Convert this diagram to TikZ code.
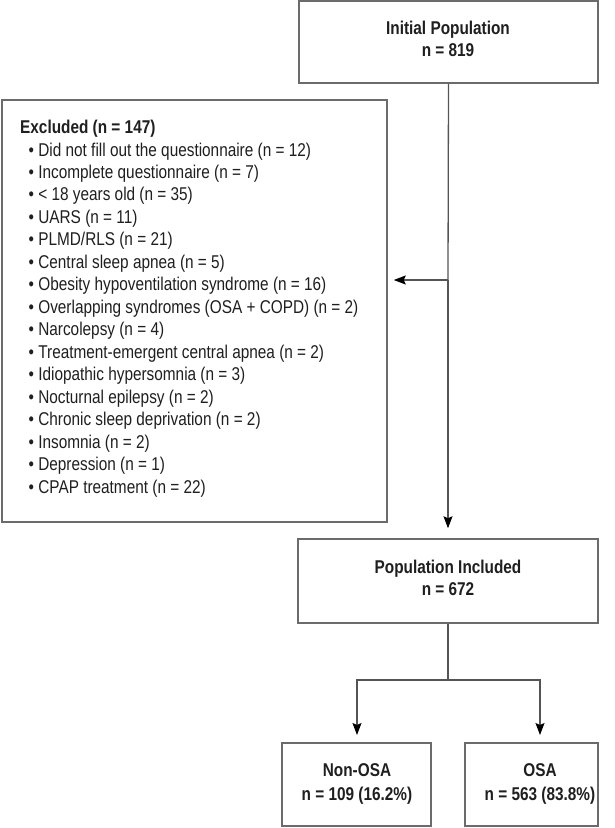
\documentclass[tikz,border=0pt]{standalone}
\usepackage{fontspec}
\setmainfont{Liberation Sans}[FakeStretch=0.83]
\usetikzlibrary{arrows.meta}
\definecolor{boxgray}{gray}{0.42}
\definecolor{linegray}{gray}{0.33}
\definecolor{txt}{gray}{0.12}
\begin{document}
\begin{tikzpicture}[x=1pt,y=-1pt,
  box/.style={draw=boxgray, line width=1.5pt, inner sep=0pt, fill=white},
  conn/.style={draw=linegray, line width=1.3pt},
  arr/.style={conn, -{Stealth[length=12pt,width=9pt,inset=2pt,color=black]}},
  hd/.style={font=\fontsize{18.5}{22}\selectfont\bfseries, text=txt, anchor=base, inner sep=0pt},
  it/.style={font=\fontsize{18.5}{22}\selectfont, text=txt, anchor=base west, inner sep=0pt}]
\useasboundingbox (0,0) rectangle (615,828);
% boxes
\node[box, minimum width=299pt, minimum height=82pt] (init) at (448.5,42) {};
\node[box, minimum width=385pt, minimum height=422pt] (excl) at (194.5,311) {};
\node[box, minimum width=300pt, minimum height=84pt] (incl) at (448,581) {};
\node[box, minimum width=149pt, minimum height=83pt] (non) at (356.5,784.5) {};
\node[box, minimum width=133pt, minimum height=83pt] (osa) at (531.5,784.5) {};
% texts
\node[hd] (t1) at (448,34) {Initial Population};
\node[hd] (t2) at (448,56) {n = 819};
\node[hd] (t3) at (448,573) {Population Included};
\node[hd] (t4) at (448,595) {n = 672};
\node[hd] (t5) at (357,776) {Non-OSA};
\node[hd] (t6) at (357,800) {n = 109 (16.2\%)};
\node[hd] (t7) at (540,776) {OSA};
\node[hd] (t8) at (540,800) {n = 563 (83.8\%)};
\node[hd, anchor=base west] (eh) at (20,133) {Excluded (n = 147)};
\foreach \txt [count=\i from 0] in {
  Did not fill out the questionnaire (n = 12),
  Incomplete questionnaire (n = 7),
  < 18 years old (n = 35),
  UARS (n = 11),
  PLMD/RLS (n = 21),
  Central sleep apnea (n = 5),
  Obesity hypoventilation syndrome (n = 16),
  Overlapping syndromes (OSA + COPD) (n = 2),
  Narcolepsy (n = 4),
  Treatment-emergent central apnea (n = 2),
  Idiopathic hypersomnia (n = 3),
  Nocturnal epilepsy (n = 2),
  Chronic sleep deprivation (n = 2),
  Insomnia (n = 2),
  Depression (n = 1),
  CPAP treatment (n = 22)}
  \node[it] (e\i) at (28.5,156+22.47*\i) {\textbullet\ \txt};
% connectors
\coordinate (split) at (448,280);
\coordinate (fork) at (448,680);
\draw[conn] (init.south) -- (split);
\draw[arr, shorten >=6pt] (split) -- (split -| excl.east);
\draw[arr, shorten >=10pt] (split) -- (incl.north);
\draw[conn] (incl.south) -- (fork);
\draw[arr, shorten >=8pt] (fork) -| (357,680) -- (357,743);
\draw[arr, shorten >=8pt] (fork) -| (540,680) -- (540,743);
\end{tikzpicture}
\end{document}
